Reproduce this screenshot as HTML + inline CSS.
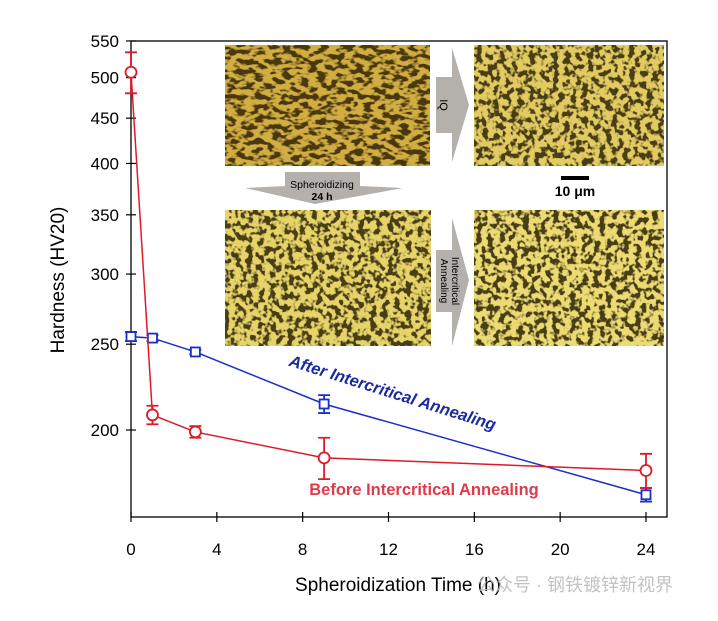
<!DOCTYPE html>
<html><head><meta charset="utf-8"><style>
body{margin:0;background:#fff;width:718px;height:616px;overflow:hidden;font-family:"Liberation Sans",Arial,sans-serif}
svg text{font-family:"Liberation Sans",Arial,sans-serif}
</style></head><body>
<svg id="chart" width="718" height="616" viewBox="0 0 718 616">
<defs>
<filter id="micro" x="0" y="0" width="100%" height="100%">
<feTurbulence type="fractalNoise" baseFrequency="0.17" numOctaves="2" seed="3" result="n"/>
<feColorMatrix type="matrix" values="0 0 0 0 0  0 0 0 0 0  0 0 0 0 0  -8 0 0 0 4.3" in="n" result="m"/>
<feFlood flood-color="#4a3c18"/>
<feComposite in2="m" operator="in" result="dark"/>
<feMerge><feMergeNode in="SourceGraphic"/><feMergeNode in="dark"/></feMerge>
</filter>
<filter id="micro2" x="0" y="0" width="100%" height="100%">
<feTurbulence type="fractalNoise" baseFrequency="0.11 0.2" numOctaves="2" seed="7" result="n"/>
<feColorMatrix type="matrix" values="0 0 0 0 0  0 0 0 0 0  0 0 0 0 0  -8 0 0 0 4.4" in="n" result="m"/>
<feFlood flood-color="#4a3810"/>
<feComposite in2="m" operator="in" result="dark"/>
<feMerge><feMergeNode in="SourceGraphic"/><feMergeNode in="dark"/></feMerge>
</filter>
</defs>
<g id="insets">
<rect x="225" y="45" width="205" height="121" fill="#d2ad42" filter="url(#micro2)"/>
<rect x="474" y="45" width="190" height="121" fill="#e2cc62" filter="url(#micro)"/>
<rect x="225" y="210" width="206" height="136" fill="#e6d468" filter="url(#micro)"/>
<rect x="474" y="210" width="190" height="136" fill="#ecdb72" filter="url(#micro)"/>
<g>
<polygon points="436,77 452,77 452,48 469,105 452,162 452,133 436,133" fill="#b4b0ac"/>
<text x="444" y="105" font-size="11" text-anchor="middle" transform="rotate(90 444 105)" dy="4">IQ</text>
</g>
<g>
<polygon points="285,172 360,172 360,186 403,188 315,204 245,188 285,186" fill="#b4b0ac"/>
<text x="322" y="188" font-size="10.5" text-anchor="middle">Spheroidizing</text>
<text x="322" y="200" font-size="10.5" font-weight="bold" text-anchor="middle">24 h</text>
</g>
<g>
<polygon points="436,250 452,250 452,218 469,280 452,346 452,312 436,312" fill="#b4b0ac"/>
<text x="450" y="281" font-size="10" text-anchor="middle" transform="rotate(90 450 281)" dy="-2">Intercritical</text>
<text x="450" y="281" font-size="10" text-anchor="middle" transform="rotate(90 450 281)" dy="9">Annealing</text>
</g>
<g>
<rect x="561" y="176" width="28" height="4" fill="#000"/>
<text x="575" y="196" font-size="14" font-weight="bold" text-anchor="middle">10 μm</text>
</g>
</g>
<g id="axes"></g>
<g id="series"></g>
<text x="424" y="495" font-size="16.5" font-weight="bold" fill="#e03a4a" text-anchor="middle">Before Intercritical Annealing</text>
<text x="391" y="398" font-size="16.5" font-weight="bold" font-style="italic" fill="#1a2aa0" text-anchor="middle" transform="rotate(17.5 391 398)">After Intercritical Annealing</text>
<text x="64" y="280" font-size="19" text-anchor="middle" transform="rotate(-90 64 280)">Hardness (HV20)</text>
<text x="398" y="591" font-size="19" text-anchor="middle">Spheroidization Time (h)</text>
<text x="575" y="591" font-size="18" fill="#b8b8b8" text-anchor="middle" font-family="'Liberation Sans','Noto Sans CJK SC',sans-serif" opacity="0.85">公众号 · 钢铁镀锌新视界</text>
</svg>
<script>
const xTicks=[0,4,8,12,16,20,24];
const yTicks=[200,250,300,350,400,450,500,550];
const times=[0,1,3,9,24];
const redVals=[507,208,199,186,180];
const redErr=[27,5,3,10,8];
const blueVals=[255,254,245,214,169];
const blueErr=[3,2,1.5,5,3];
const L=131,R=667,T=41,B=517;
const x=v=>131+v*(646-131)/24;
const y=v=>430-(Math.log10(v)-Math.log10(200))*885.5;
const NS="http://www.w3.org/2000/svg";
function mk(tag,attrs,parent){const e=document.createElementNS(NS,tag);for(const k in attrs)e.setAttribute(k,attrs[k]);parent.appendChild(e);return e;}
const ax=document.getElementById('axes');
const frame=mk('rect',{x:L,y:T,width:R-L,height:B-T,fill:'none',stroke:'#000','stroke-width':1.3},ax);


xTicks.forEach(t=>{
 const l=mk('line',{x1:x(t),x2:x(t),y1:B-5,y2:B+5,stroke:'#000','stroke-width':1.2},ax);
 
 
 const tx=mk('text',{x:x(t),y:B+38,'font-size':17,'text-anchor':'middle'},ax);tx.textContent=t;
 
 
});
yTicks.forEach(t=>{
 const l=mk('line',{x1:L-5,x2:L+5,y1:y(t),y2:y(t),stroke:'#000','stroke-width':1.2},ax);
 
 
 const tx=mk('text',{x:L-12,y:y(t)+6,'font-size':17,'text-anchor':'end'},ax);tx.textContent=t;
 
 
});
const sg=document.getElementById('series');
function series(vals,errs,color,name,marker){
 const g=mk('g',{},sg);
 
 
 const pl=mk('polyline',{points:times.map((t,i)=>x(t)+','+y(vals[i])).join(' '),fill:'none',stroke:color,'stroke-width':1.5},g);
 
 
 times.forEach((t,i)=>{
  const cx=x(t),top=y(vals[i]+errs[i]),bot=y(vals[i]-errs[i]);
  const eb=mk('path',{d:`M${cx},${top}V${bot}M${cx-6},${top}H${cx+6}M${cx-6},${bot}H${cx+6}`,stroke:color,'stroke-width':1.8,fill:'none'},g);
  
  
  let m;
  if(marker==='circle') m=mk('circle',{cx:cx,cy:y(vals[i]),r:5.5,fill:'#fff',stroke:color,'stroke-width':1.8},g);
  else m=mk('rect',{x:cx-4.5,y:y(vals[i])-4.5,width:9,height:9,fill:'#fff',stroke:color,'stroke-width':1.8},g);
  
  
 });
}
series(blueVals,blueErr,'#1a2ec8','after-annealing-series','square');
series(redVals,redErr,'#dd1a2a','before-annealing-series','circle');
</script>
</body></html>
